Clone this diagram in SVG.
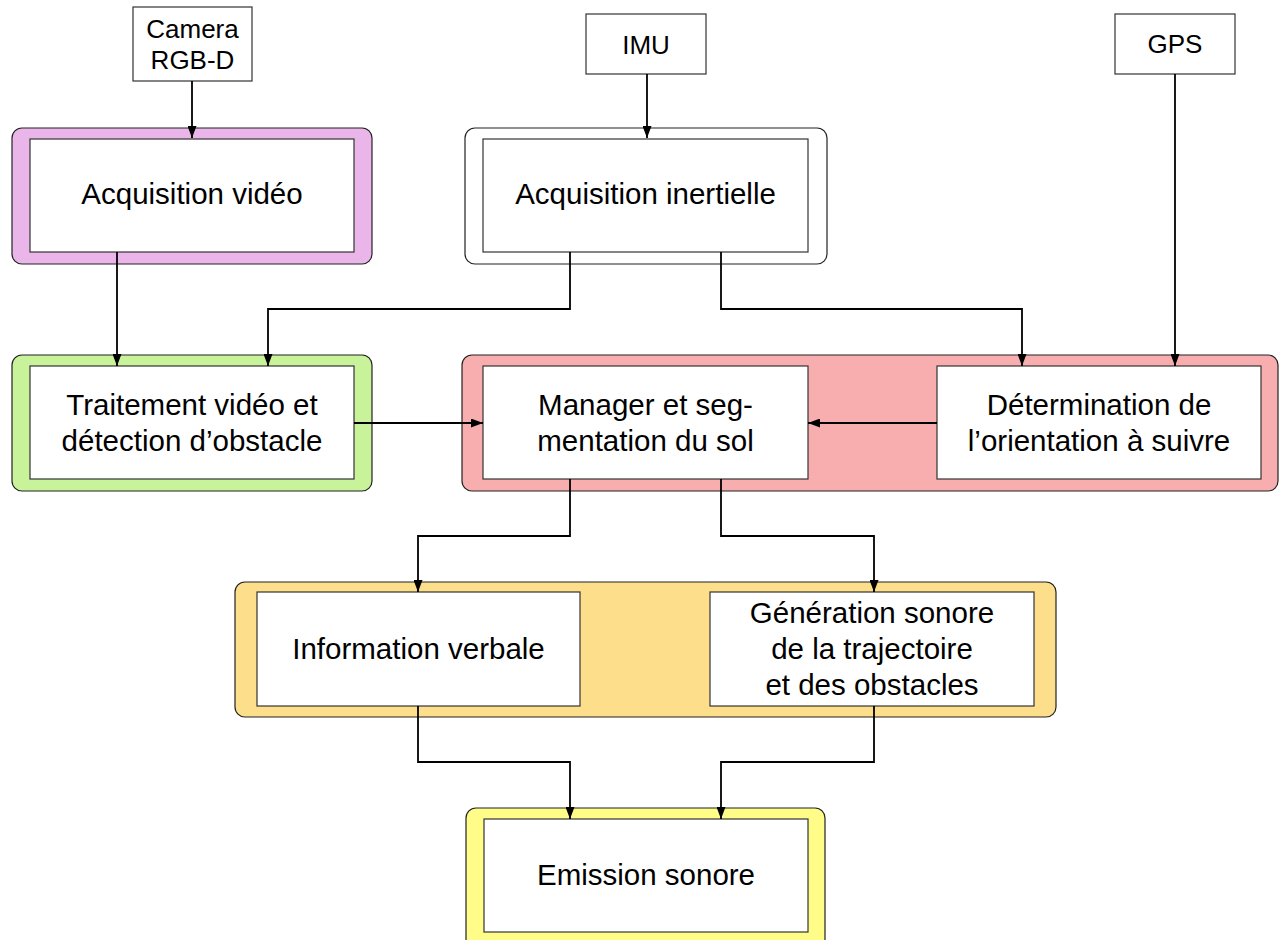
<svg xmlns="http://www.w3.org/2000/svg" width="1280" height="940" viewBox="0 0 1280 940">
<style>
text{font-family:"Liberation Sans",Arial,sans-serif;fill:#000;text-anchor:middle}
.big{font-size:29.5px}
.small{font-size:26px}
.box{fill:#fff;stroke:#333;stroke-width:1.2}
.grp{stroke:#222;stroke-width:1.2}
.con{fill:none;stroke:#000;stroke-width:1.8;marker-end:url(#ah)}
</style>
<defs>
<marker id="ah" markerUnits="userSpaceOnUse" markerWidth="12" markerHeight="9" refX="12" refY="4.5" orient="auto" viewBox="0 0 12 9">
<path d="M0,0 L12,4.5 L0,9 z" fill="#000"/>
</marker>
</defs>
<rect width="1280" height="940" fill="#fff"/>
<g id="camera"><rect class="box" x="133" y="7" width="119" height="74"/><text class="small" x="192.5" y="38">Camera</text><text class="small" x="192.5" y="69">RGB-D</text></g>
<g id="imu"><rect class="box" x="586" y="14" width="120" height="60"/><text class="small" x="646" y="54">IMU</text></g>
<g id="gps"><rect class="box" x="1115" y="14" width="120" height="60"/><text class="small" x="1175" y="53">GPS</text></g>
<g id="acq-video"><rect class="grp" x="12" y="128" width="360" height="136" rx="10" fill="#EAB6EA"/><rect class="box" x="30" y="139" width="324" height="113"/><text class="big" x="192" y="204">Acquisition vidéo</text></g>
<g id="acq-inertielle"><rect class="grp" x="465" y="128" width="362" height="136" rx="10" fill="#fff"/><rect class="box" x="483" y="139" width="325" height="113"/><text class="big" x="645.5" y="204">Acquisition inertielle</text></g>
<g id="traitement"><rect class="grp" x="12" y="355" width="360" height="136" rx="10" fill="#C9F39B"/><rect class="box" x="30" y="366" width="324" height="113"/><text class="big" x="192" y="415">Traitement vidéo et</text><text class="big" x="192" y="451">détection d’obstacle</text></g>
<g id="manager-group"><rect class="grp" x="462" y="355" width="816" height="136" rx="10" fill="#F8AEAE"/></g>
<g id="manager"><rect class="box" x="483" y="366" width="325" height="113"/><text class="big" x="645.5" y="415">Manager et seg-</text><text class="big" x="645.5" y="451">mentation du sol</text></g>
<g id="determination"><rect class="box" x="937" y="366" width="324" height="113"/><text class="big" x="1099" y="415">Détermination de</text><text class="big" x="1099" y="451">l’orientation à suivre</text></g>
<g id="sortie-group"><rect class="grp" x="235" y="582" width="821" height="135" rx="10" fill="#FDDE8B"/></g>
<g id="info-verbale"><rect class="box" x="257" y="592" width="323" height="114"/><text class="big" x="418.5" y="659">Information verbale</text></g>
<g id="generation"><rect class="box" x="710" y="592" width="324" height="114"/><text class="big" x="872" y="623">Génération sonore</text><text class="big" x="872" y="659">de la trajectoire</text><text class="big" x="872" y="695">et des obstacles</text></g>
<g id="emission"><rect class="grp" x="466" y="808" width="359" height="145" rx="10" fill="#FFFD88"/><rect class="box" x="484" y="819" width="324" height="113"/><text class="big" x="646" y="885">Emission sonore</text></g>
<g id="connectors">
<path class="con" d="M192,81 V138"/>
<path class="con" d="M647,74 V138"/>
<path class="con" d="M1175,74 V366"/>
<path class="con" d="M117,252 V366"/>
<path class="con" d="M570,252 V309 H268 V366"/>
<path class="con" d="M721,252 V309 H1022 V366"/>
<path class="con" d="M354,423 H483"/>
<path class="con" d="M937,423 H808"/>
<path class="con" d="M570,479 V536 H418 V592"/>
<path class="con" d="M721,479 V536 H874 V592"/>
<path class="con" d="M418,706 V762 H570 V819"/>
<path class="con" d="M874,706 V762 H721 V819"/>
</g>
</svg>
